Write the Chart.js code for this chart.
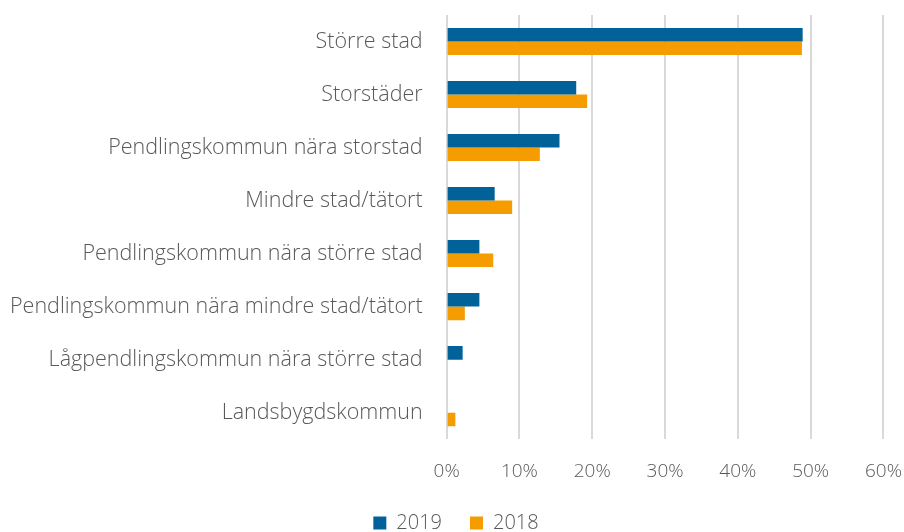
<!DOCTYPE html>
<html>
<head>
<meta charset="utf-8">
<script src="https://cdn.jsdelivr.net/npm/chart.js@4"></script>
<style>
  html, body { margin: 0; padding: 0; background: #fff; }
  #wrap { width: 904px; height: 532px; }
</style>
</head>
<body>
<div id="wrap"><canvas id="chart"></canvas></div>
<script>
const categories = [
  "Större stad",
  "Storstäder",
  "Pendlingskommun nära storstad",
  "Mindre stad/tätort",
  "Pendlingskommun nära större stad",
  "Pendlingskommun nära mindre stad/tätort",
  "Lågpendlingskommun nära större stad",
  "Landsbygdskommun",
];
const values2019 = [48.9, 17.8, 15.5, 6.6, 4.5, 4.5, 2.2, 0];
const values2018 = [48.8, 19.3, 12.8, 9.0, 6.4, 2.5, 0, 1.2];

const textColor = "#595959";
const fontFamily = "'Open Sans', sans-serif";

const ctx = document.getElementById("chart");
new Chart(ctx, {
  type: "bar",
  data: {
    labels: categories,
    datasets: [
      {
        label: "2019",
        data: values2019,
        backgroundColor: "#006299",
        categoryPercentage: 0.51,
        barPercentage: 1.0,
      },
      {
        label: "2018",
        data: values2018,
        backgroundColor: "#f59c00",
        categoryPercentage: 0.51,
        barPercentage: 1.0,
      },
    ],
  },
  options: {
    indexAxis: "y",
    responsive: true,
    maintainAspectRatio: false,
    animation: false,
    layout: {
      padding: { top: 2, right: 0, left: 8, bottom: -11 },
    },
    scales: {
      x: {
        min: 0,
        max: 60,
        border: { display: false },
        // transparent tick marks push the labels down without extra side padding
        grid: {
          color: "#d9d9d9",
          lineWidth: 2,
          drawTicks: true,
          tickLength: 19,
          tickColor: "rgba(0,0,0,0)",
        },
        ticks: {
          stepSize: 10,
          padding: 2,
          color: textColor,
          font: { family: fontFamily, size: 19, weight: 300 },
          callback: (v) => v + "%",
        },
      },
      y: {
        border: { display: false },
        // invisible tick marks give the gap between labels and plot
        grid: {
          display: true,
          drawOnChartArea: false,
          drawTicks: true,
          tickLength: 22,
          tickColor: "rgba(0,0,0,0)",
        },
        ticks: {
          padding: 2,
          color: textColor,
          font: { family: fontFamily, size: 21.5, weight: 300 },
        },
      },
    },
    plugins: {
      legend: {
        display: true,
        position: "bottom",
        labels: {
          boxWidth: 13,
          boxHeight: 13,
          padding: 28,
          color: textColor,
          font: { family: fontFamily, size: 20, weight: 300 },
        },
      },
      tooltip: { enabled: false },
    },
  },
});
</script>
</body>
</html>
